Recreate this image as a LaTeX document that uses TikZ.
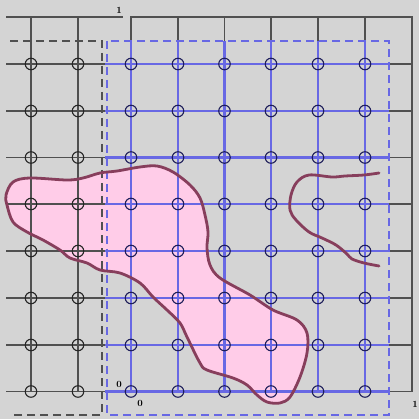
\documentclass[tikz,border=0pt]{standalone}
\usepackage{xcolor}
\definecolor{bggray}{RGB}{212,212,212}
\definecolor{gridblack}{RGB}{80,80,80}
\definecolor{gridblue}{RGB}{104,104,228}
\definecolor{navy}{RGB}{30,30,90}
\definecolor{blobfill}{RGB}{255,204,232}
\definecolor{blobline}{RGB}{135,62,92}
\begin{document}
\begin{tikzpicture}[x=1pt,y=-1pt,
  blackline/.style={draw=gridblack,line width=1.6pt},
  blueline/.style={draw=gridblue,line width=2.2pt},
  blackdash/.style={draw=gridblack,line width=1.6pt,dash pattern=on 8pt off 5pt},
  bluedash/.style={draw=gridblue,line width=1.6pt,dash pattern=on 8pt off 5pt},
  blackpt/.style={circle,draw=black!85,line width=1.1pt,minimum size=11.5pt,inner sep=0pt},
  bluept/.style={circle,draw=navy,line width=1.1pt,minimum size=11.5pt,inner sep=0pt},
  lbl/.style={font=\fontsize{9.5}{10}\selectfont\bfseries,inner sep=0pt,text=black},
  blob/.style={draw=blobline,line width=2.8pt,line join=round},
]
\fill[bggray] (0,0) rectangle (419,419);
\useasboundingbox (0,0) rectangle (419,419);

% pink region fill
\fill[blobfill] plot[smooth cycle,tension=0.55] coordinates {
 (6,195) (13,182) (30,178) (67,180) (83,178) (100,173) (117,171) (140,167)
 (157,166) (173,172) (190,185) (200,198) (205,215) (208,232) (207,248)
 (210,265) (220,278) (250,295) (273,310) (297,320) (307,333) (307,353)
 (300,377) (290,397) (280,403) (267,402) (257,395) (247,385) (233,378)
 (207,370) (200,363) (187,337) (180,323) (167,310) (153,297) (140,283)
 (120,273) (100,270) (87,263) (70,258) (60,250) (43,240) (27,232) (13,222) (7,205)};

% black grid
\foreach \y in {64,111,157.5,204,251,298,345,391.5}
  \draw[blackline] (6,\y) -- (412,\y);
\foreach \x in {31,78,131,178,224.5,271,318,365}
  \draw[blackline] (\x,17) -- (\x,391.5);
\draw[blackline] (6,17) -- (122.5,17);
\draw[blackline] (130,17) -- (412,17) -- (412,392);

% blue grid
\foreach \y in {64,111,157.5,204,251,298,345,391.5}
  \draw[blueline] (105,\y) -- (389,\y);
\foreach \x in {131,178,224.5,271,318,365}
  \draw[blueline] (\x,41) -- (\x,391.5);

% dashed frames
\draw[blackdash] (10,41) -- (102,41) -- (102,415) -- (10,415);
\draw[bluedash] (107,41) rectangle (389,415);

% region outlines
\draw[blob] plot[smooth cycle,tension=0.55] coordinates {
 (6,195) (13,182) (30,178) (67,180) (83,178) (100,173) (117,171) (140,167)
 (157,166) (173,172) (190,185) (200,198) (205,215) (208,232) (207,248)
 (210,265) (220,278) (250,295) (273,310) (297,320) (307,333) (307,353)
 (300,377) (290,397) (280,403) (267,402) (257,395) (247,385) (233,378)
 (207,370) (200,363) (187,337) (180,323) (167,310) (153,297) (140,283)
 (120,273) (100,270) (87,263) (70,258) (60,250) (43,240) (27,232) (13,222) (7,205)};
\draw[blob,line cap=round] plot[smooth,tension=0.55] coordinates {
 (379,173) (364,175) (345,176) (332,177) (309,175) (297,182) (291,195)
 (290,210) (296,220) (309,232) (322,238) (336,245) (347,254) (352,259)
 (364,263) (379,266)};

% grid points
\foreach \y [count=\j] in {64,111,157.5,204,251,298,345,391.5}{
  \foreach \x [count=\i] in {31,78}
    \node[blackpt] (k-\i-\j) at (\x,\y) {};
  \foreach \x [count=\i] in {131,178,224.5,271,318,365}
    \node[bluept] (b-\i-\j) at (\x,\y) {};
}

% labels
\node[lbl] (top1) at (119,10) {1};
\node[lbl] (o1) at (119,384) {0};
\node[lbl] (o2) at (140,403) {0};
\node[lbl] (r1) at (415,404) {1};
\end{tikzpicture}
\end{document}
